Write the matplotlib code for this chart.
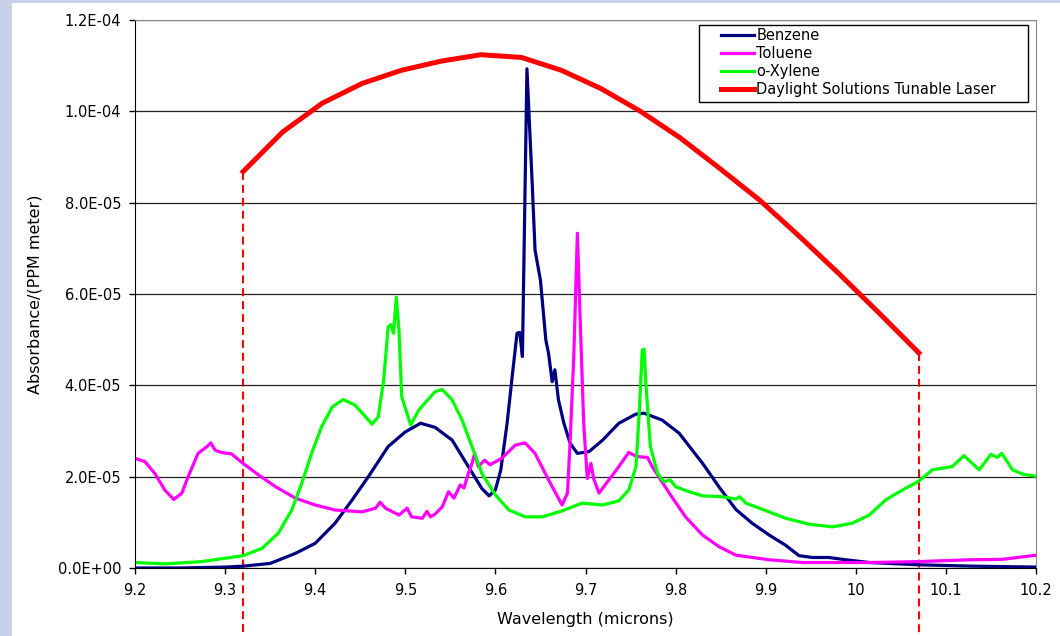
import matplotlib
matplotlib.use("Agg")
import matplotlib.pyplot as plt
from matplotlib.ticker import FuncFormatter, MultipleLocator
from matplotlib.patches import Rectangle

# absorbance values in units of 1e-5
benzene_x = [9.2, 9.25, 9.3, 9.32, 9.35, 9.378, 9.4, 9.422, 9.441, 9.459, 9.481, 9.5, 9.517,
             9.533, 9.552, 9.570, 9.585, 9.593, 9.6, 9.606, 9.613, 9.619, 9.624, 9.627, 9.630,
             9.635, 9.641, 9.644, 9.650, 9.656, 9.659, 9.663, 9.666, 9.670, 9.676, 9.683, 9.691,
             9.704, 9.719, 9.737, 9.756, 9.765, 9.785, 9.804, 9.830, 9.848, 9.867, 9.885, 9.904,
             9.922, 9.937, 9.952, 9.970, 9.989, 10.015, 10.07, 10.13, 10.2]
benzene_y = [0.0, 0.0, 0.02, 0.04, 0.10, 0.32, 0.54, 0.98, 1.49, 2.0, 2.66, 2.98, 3.17,
             3.08, 2.80, 2.22, 1.74, 1.58, 1.71, 2.15, 3.17, 4.26, 5.14, 5.16, 4.63,
             10.93, 8.35, 6.96, 6.30, 4.99, 4.70, 4.08, 4.34, 3.68, 3.17, 2.73, 2.51,
             2.55, 2.80, 3.17, 3.37, 3.39, 3.24, 2.95, 2.29, 1.78, 1.28, 0.98, 0.72,
             0.50, 0.27, 0.23, 0.23, 0.18, 0.12, 0.07, 0.04, 0.02]

toluene_x = [9.2, 9.211, 9.222, 9.233, 9.243, 9.252, 9.259, 9.270, 9.280, 9.284, 9.289, 9.296,
             9.307, 9.32, 9.337, 9.356, 9.378, 9.40, 9.422, 9.452, 9.467, 9.472, 9.478, 9.493,
             9.502, 9.507, 9.519, 9.524, 9.528, 9.533, 9.541, 9.548, 9.554, 9.561, 9.565, 9.570,
             9.574, 9.577, 9.581, 9.588, 9.594, 9.607, 9.622, 9.633, 9.644, 9.659, 9.674, 9.680,
             9.683, 9.687, 9.691, 9.694, 9.698, 9.702, 9.706, 9.709, 9.715, 9.726, 9.737, 9.748,
             9.757, 9.769, 9.774, 9.793, 9.811, 9.830, 9.848, 9.867, 9.904, 9.941, 10.015,
             10.07, 10.126, 10.163, 10.2]
toluene_y = [2.40, 2.33, 2.07, 1.71, 1.50, 1.64, 2.00, 2.51, 2.66, 2.74, 2.58, 2.53,
             2.50, 2.29, 2.04, 1.78, 1.53, 1.38, 1.27, 1.23, 1.31, 1.44, 1.31, 1.16,
             1.31, 1.12, 1.09, 1.24, 1.12, 1.18, 1.34, 1.67, 1.53, 1.82, 1.75, 2.07,
             2.29, 2.51, 2.22, 2.36, 2.26, 2.40, 2.69, 2.74, 2.51, 1.93, 1.38, 1.64,
             2.80, 4.63, 7.33, 5.50, 3.17, 1.96, 2.29, 1.96, 1.64, 1.93, 2.22, 2.53,
             2.44, 2.42, 2.22, 1.64, 1.12, 0.72, 0.47, 0.28, 0.18, 0.12, 0.12,
             0.14, 0.18, 0.19, 0.28]

xylene_x = [9.2, 9.233, 9.274, 9.32, 9.341, 9.359, 9.374, 9.385, 9.396, 9.407, 9.419, 9.431,
            9.444, 9.456, 9.463, 9.470, 9.476, 9.481, 9.484, 9.487, 9.490, 9.493, 9.496, 9.506,
            9.515, 9.533, 9.541, 9.552, 9.563, 9.574, 9.585, 9.6, 9.615, 9.633, 9.652, 9.674,
            9.696, 9.719, 9.737, 9.748, 9.756, 9.760, 9.763, 9.765, 9.767, 9.772, 9.780, 9.787,
            9.794, 9.8, 9.815, 9.830, 9.852, 9.867, 9.871, 9.878, 9.893, 9.922, 9.948, 9.974,
            9.996, 10.015, 10.033, 10.052, 10.069, 10.085, 10.107, 10.120, 10.137, 10.15,
            10.157, 10.162, 10.174, 10.186, 10.2]
xylene_y = [0.12, 0.09, 0.14, 0.27, 0.43, 0.76, 1.27, 1.85, 2.51, 3.09, 3.53, 3.69,
            3.57, 3.31, 3.15, 3.31, 4.12, 5.28, 5.33, 5.14, 5.93, 5.20, 3.75, 3.13,
            3.46, 3.86, 3.91, 3.68, 3.24, 2.66, 2.07, 1.60, 1.27, 1.12, 1.12, 1.25,
            1.42, 1.38, 1.47, 1.71, 2.22, 3.53, 4.77, 4.79, 4.04, 2.66, 2.07, 1.89,
            1.93, 1.78, 1.67, 1.58, 1.56, 1.51, 1.56, 1.42, 1.31, 1.09, 0.96, 0.90,
            0.98, 1.16, 1.49, 1.71, 1.89, 2.15, 2.22, 2.46, 2.15, 2.49,
            2.42, 2.51, 2.15, 2.05, 2.01]

laser_x = [9.320, 9.364, 9.408, 9.452, 9.496, 9.540, 9.584, 9.629, 9.673, 9.717, 9.761,
           9.805, 9.849, 9.893, 9.937, 9.981, 10.025, 10.070]
laser_y = [8.68, 9.55, 10.18, 10.61, 10.90, 11.10, 11.24, 11.18, 10.90, 10.50, 10.00,
           9.42, 8.75, 8.06, 7.27, 6.45, 5.60, 4.71]

SCALE = 1e-5

fig = plt.figure(figsize=(10.6, 6.36), dpi=100, facecolor="#c9d1ea")
# white chart area on the bluish slide background
fig.patches.append(Rectangle((12 / 1060, 0), 1 - 12 / 1060, 1 - 3 / 636,
                             transform=fig.transFigure, facecolor="white",
                             edgecolor="none", zorder=-10))
ax = fig.add_axes([135 / 1060, 1 - 568 / 636, (1036 - 135) / 1060, (568 - 20) / 636])
ax.set_zorder(1)

ax.plot(benzene_x, [v * SCALE for v in benzene_y], color="#000080", lw=2.3, label="Benzene")
ax.plot(toluene_x, [v * SCALE for v in toluene_y], color="#ff00ff", lw=2.3, label="Toluene")
ax.plot(xylene_x, [v * SCALE for v in xylene_y], color="#00ff00", lw=2.3, label="o-Xylene")
ax.plot(laser_x, [v * SCALE for v in laser_y], color="#ff0000", lw=3.6,
        label="Daylight Solutions Tunable Laser", solid_joinstyle="round")

# dashed markers for the laser tuning range, running below the axis
for i in (0, -1):
    ax.plot([laser_x[i], laser_x[i]], [laser_y[i] * SCALE, -1.6e-5], color="#ff0000",
            lw=1.5, ls=(0, (3.8, 2.4)), clip_on=False, zorder=1)

ax.set_xlim(9.2, 10.2)
ax.set_ylim(0, 1.2e-4)
ax.xaxis.set_major_locator(MultipleLocator(0.1))
ax.yaxis.set_major_locator(MultipleLocator(2e-5))
ax.xaxis.set_major_formatter(FuncFormatter(lambda v, p: f"{v:.1f}".rstrip("0").rstrip(".")))
ax.yaxis.set_major_formatter(FuncFormatter(lambda v, p: f"{v:.1E}"))
ax.grid(axis="y", color="#222222", lw=0.9)
ax.set_axisbelow(True)
ax.tick_params(direction="out", length=4, width=1, labelsize=10.5)
ax.tick_params(axis="x", pad=7)
ax.tick_params(axis="y", pad=6)

for side in ("top", "right"):
    ax.spines[side].set_color("#888888")
for side in ("left", "bottom"):
    ax.spines[side].set_color("black")

ax.set_xlabel("Wavelength (microns)", fontsize=11.5)
ax.set_ylabel("Absorbance/(PPM meter)", fontsize=11.5)
ax.xaxis.set_label_coords(0.5, -0.080)
ax.yaxis.set_label_coords(-0.103, 0.5)

# legend text without frame, plus an Excel-like wide box around it
leg = ax.legend(loc="upper left", bbox_to_anchor=(0.650, 0.985), fontsize=10.5,
                frameon=False, handlelength=2.3, handletextpad=0.15,
                labelspacing=0.2, borderpad=0, borderaxespad=0)
ax.add_patch(Rectangle((0.626, 0.8504), 0.991 - 0.626, 0.9909 - 0.8504,
                       transform=ax.transAxes, facecolor="white", edgecolor="black",
                       lw=1.0, zorder=4))
leg.set_zorder(5)

fig.savefig("out.png", dpi=100, facecolor=fig.get_facecolor())
